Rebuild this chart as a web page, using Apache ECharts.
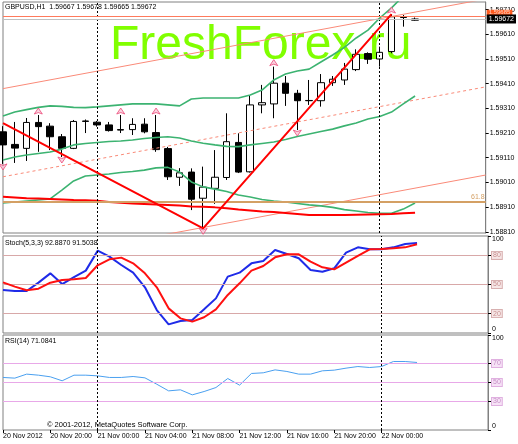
<!DOCTYPE html>
<html><head><meta charset="utf-8">
<script src="https://cdn.jsdelivr.net/npm/echarts@6/dist/echarts.min.js"></script>
<style>html,body{margin:0;padding:0;background:#fff}#c{width:518px;height:444px}</style>
</head><body><div id="c"></div>
<script>
// ---- data ----
const times = ['20 Nov 16:00','20 Nov 17:00','20 Nov 18:00','20 Nov 19:00','20 Nov 20:00','20 Nov 21:00','20 Nov 22:00','20 Nov 23:00',
 '21 Nov 00:00','21 Nov 01:00','21 Nov 02:00','21 Nov 03:00','21 Nov 04:00','21 Nov 05:00','21 Nov 06:00','21 Nov 07:00',
 '21 Nov 08:00','21 Nov 09:00','21 Nov 10:00','21 Nov 11:00','21 Nov 12:00','21 Nov 13:00','21 Nov 14:00','21 Nov 15:00',
 '21 Nov 16:00','21 Nov 17:00','21 Nov 18:00','21 Nov 19:00','21 Nov 20:00','21 Nov 21:00','21 Nov 22:00','21 Nov 23:00',
 '22 Nov 00:00','22 Nov 01:00','22 Nov 02:00','22 Nov 03:00'];
const futureSlots = ['22 Nov 04:00','22 Nov 05:00','22 Nov 06:00','22 Nov 07:00','22 Nov 08:00','22 Nov 09:00'];
const timeTickLabels = ['20 Nov 2012','20 Nov 20:00','21 Nov 00:00','21 Nov 04:00','21 Nov 08:00','21 Nov 12:00','21 Nov 16:00','21 Nov 20:00','22 Nov 00:00'];

const open  = [1.59215,1.59164,1.59148,1.59253,1.59238,1.59195,1.59148,1.59257,1.59254,1.59243,1.59224,1.59224,1.59246,1.59212,1.59147,1.59031,1.59052,1.58946,1.58986,1.59030,1.59172,1.59053,1.59324,1.59328,1.59412,1.59371,1.59342,1.59341,1.59414,1.59425,1.59467,1.59532,1.59510,1.59540,1.59679,1.59667];
const close = [1.59162,1.59149,1.59253,1.59236,1.59195,1.59148,1.59257,1.59259,1.59243,1.59220,1.59222,1.59245,1.59215,1.59143,1.59033,1.59049,1.58942,1.58991,1.59031,1.59175,1.59052,1.59324,1.59333,1.59412,1.59371,1.59341,1.59341,1.59414,1.59428,1.59469,1.59529,1.59509,1.59537,1.59681,1.59678,1.59672];
const low   = [1.59085,1.59089,1.59097,1.59134,1.59141,1.59113,1.59145,1.59210,1.59236,1.59216,1.59210,1.59202,1.59209,1.59134,1.59020,1.58996,1.58898,1.58824,1.58923,1.59020,1.59048,1.59050,1.59290,1.59270,1.59320,1.59222,1.59324,1.59317,1.59401,1.59405,1.59461,1.59490,1.59479,1.59533,1.59641,1.59665];
const high  = [1.59238,1.59255,1.59271,1.59283,1.59250,1.59206,1.59263,1.59265,1.59259,1.59255,1.59283,1.59270,1.59270,1.59283,1.59154,1.59068,1.59067,1.59074,1.59141,1.59290,1.59209,1.59364,1.59405,1.59479,1.59441,1.59385,1.59425,1.59449,1.59441,1.59494,1.59549,1.59537,1.59560,1.59692,1.59688,1.59678];

const bbUpper  = [1.59279,1.59295,1.59305,1.59314,1.59320,1.59318,1.59314,1.59313,1.59316,1.59320,1.59324,1.59328,1.59328,1.59328,1.59324,1.59320,1.59348,1.59352,1.59352,1.59352,1.59352,1.59364,1.59384,1.59425,1.59449,1.59461,1.59469,1.59498,1.59526,1.59557,1.59595,1.59627,1.59676,1.59717,1.59765,1.59798];
const bbMiddle = [1.59101,1.59113,1.59121,1.59127,1.59133,1.59145,1.59162,1.59168,1.59172,1.59176,1.59178,1.59182,1.59188,1.59192,1.59195,1.59190,1.59178,1.59169,1.59162,1.59156,1.59155,1.59162,1.59168,1.59174,1.59184,1.59196,1.59206,1.59216,1.59226,1.59239,1.59251,1.59267,1.59277,1.59295,1.59328,1.59360];
const bbLower  = [1.58927,1.58931,1.58935,1.58939,1.58943,1.58979,1.59016,1.59036,1.59040,1.59044,1.59050,1.59054,1.59060,1.59069,1.59071,1.59052,1.59012,1.58992,1.58983,1.58973,1.58959,1.58951,1.58941,1.58935,1.58931,1.58925,1.58919,1.58915,1.58909,1.58900,1.58894,1.58888,1.58885,1.58885,1.58902,1.58927];
const redLine  = [1.58952,1.58949,1.58946,1.58945,1.58943,1.58941,1.58939,1.58938,1.58936,1.58931,1.58928,1.58925,1.58923,1.58921,1.58919,1.58917,1.58913,1.58912,1.58909,1.58905,1.58900,1.58896,1.58892,1.58890,1.58886,1.58882,1.58878,1.58878,1.58878,1.58878,1.58879,1.58880,1.58881,1.58882,1.58885,1.58887];

const zigzag = [[0,1.59250],[17,1.58824],[33,1.59692]];
const channelUpper = [[0,1.59390],[41,1.59753]];
const channelMid   = [[0,1.59033],[41,1.59397]];
const channelLower = [[0,1.58677],[41,1.59040]];
const fibLevel = 1.58932;
const hLinePrice = 1.59685;
const lastPrice = 1.59672;
const upFractals = [3,10,13,23,33];
const downFractals = [0,5,17,25];
const daySeparators = [8,32];

const stochMain   = [44.4,43.3,43.3,51.9,61.5,50.5,57.7,64.3,84.9,78.7,70.1,62.2,47.1,23.7,8.9,12.4,13.4,24.4,35.7,58.1,62.2,71.8,74.2,85.6,81.5,77.0,65.0,63.2,66.7,82.8,88.3,86.3,86.3,88.3,91.8,92.89];
const stochSignal = [52.2,47.8,44.0,45.7,51.9,54.7,55.3,56.7,69.8,76.0,77.7,71.8,61.5,47.1,25.4,15.1,11.7,16.2,24.4,39.2,51.2,64.3,69.1,78.0,81.1,81.1,73.5,67.7,65.6,72.5,79.4,86.3,86.6,87.3,88.3,91.50];
const rsi         = [55.3,54.6,58.8,57.7,56.0,51.8,57.7,57.7,57.0,55.3,55.3,56.3,54.9,48.2,41.2,42.3,37.0,40.5,44.7,54.2,47.2,59.5,60.2,63.3,61.6,58.8,58.8,62.3,63.0,65.1,66.8,65.8,66.8,72.1,72.1,71.08];

const priceTicks = [1.5881,1.5891,1.5901,1.5911,1.5921,1.5931,1.5941,1.5951,1.5961,1.5971];
const stochTicks = [0,20,50,80,100];
const stochLevels = [20,50,80];
const rsiTicks = [0,30,50,70,100];
const rsiLevels = [30,50,70];

// ---- chart ----
const FONT = 'Liberation Sans, Arial, sans-serif';
const categories = times.concat(futureSlots);
const candles = open.map((o,i)=>[o, close[i], low[i], high[i]]);
const sepLines = daySeparators.map(i=>({xAxis: categories[i]}));
const sepStyle = {color:'#000', type:[2,2], width:1};

function xAx(gi, show){
  return {type:'category', gridIndex:gi, data:categories, boundaryGap:false, show:true,
    axisLine:{show:false},
    axisTick:{show:show, length:3, interval:(i)=>i%4===0 && i<=32, lineStyle:{color:'#000'}},
    axisLabel:{show:show, interval:0, align:'left', margin:3, fontSize:7, color:'#000', fontFamily:FONT,
      formatter:(v,i)=> (i%4===0 && timeTickLabels[i/4]) ? timeTickLabels[i/4] : ''},
    splitLine:{show:false}};
}
function levelAxis(gi, ticks, levels, rich){
  return {type:'value', gridIndex:gi, position:'right', min:0, max:100,
    axisLine:{show:true, lineStyle:{color:'#808080'}},
    axisTick:{show:true, length:3, customValues:ticks, lineStyle:{color:'#000'}},
    axisLabel:{customValues:ticks, fontSize:7, color:'#000', fontFamily:FONT, margin:4,
      verticalAlignMinLabel:'bottom', verticalAlignMaxLabel:'top',
      formatter:(v)=> levels.indexOf(v)>=0 ? '{lv|'+v+'}' : String(v), rich:{lv:rich}},
    splitLine:{show:false}};
}

const chart = echarts.init(document.getElementById('c'), null, {renderer:'canvas'});
chart.setOption({
  animation:false,
  backgroundColor:'#fff',
  grid:[
    {left:3, right:30, top:2, height:231, show:true, borderColor:'#808080', backgroundColor:'transparent'},
    {left:3, right:30, top:236, height:97, show:true, borderColor:'#808080', backgroundColor:'transparent'},
    {left:3, right:30, top:335, height:95, show:true, borderColor:'#808080', backgroundColor:'transparent'}
  ],
  xAxis:[xAx(0,false), xAx(1,false), xAx(2,true)],
  yAxis:[
    {type:'value', gridIndex:0, position:'right', min:1.588052, max:1.597408,
     axisLine:{show:true, lineStyle:{color:'#808080'}},
     axisTick:{show:true, length:3, customValues:priceTicks, lineStyle:{color:'#000'}},
     axisLabel:{customValues:priceTicks, formatter:(v)=>v.toFixed(5), fontSize:7, color:'#000', fontFamily:FONT, margin:4},
     splitLine:{show:false}},
    levelAxis(1, stochTicks, stochLevels, {backgroundColor:'#F6E6E6', borderColor:'#D8B0B0', borderWidth:1, color:'#C89090', padding:[0,1], fontSize:7}),
    levelAxis(2, rsiTicks, rsiLevels, {backgroundColor:'#F6E2F6', borderColor:'#E0B0E0', borderWidth:1, color:'#C890C8', padding:[0,1], fontSize:7})
  ],
  graphic:[
    {type:'text', left:110, top:22, z:1, style:{text:'FreshForex.ru', fontSize:48, fontFamily:FONT, fill:'#80FF00'}},
    {type:'text', left:5, top:4, z:10, style:{text:'GBPUSD,H1  1.59667 1.59678 1.59665 1.59672', fontSize:7, fontFamily:FONT, fill:'#000'}},
    {type:'text', left:5, top:240, z:10, style:{text:'Stoch(5,3,3) 92.8870 91.5038', fontSize:7, fontFamily:FONT, fill:'#000'}},
    {type:'text', left:5, top:338, z:10, style:{text:'RSI(14) 71.0841', fontSize:7, fontFamily:FONT, fill:'#000'}},
    {type:'text', left:47, top:421, z:10, style:{text:'\u00A9 2001-2012, MetaQuotes Software Corp.', fontSize:7.5, fontFamily:FONT, fill:'#000'}}
  ],
  series:[
    {type:'candlestick', xAxisIndex:0, yAxisIndex:0, data:candles, barWidth:7, z:2,
     itemStyle:{color:'#fff', color0:'#000', borderColor:'#000', borderColor0:'#000', borderWidth:1},
     markLine:{symbol:'none', silent:true, animation:false, precision:5, data:[
       {yAxis:fibLevel, lineStyle:{color:'#D4A064', type:'solid', width:2},
        label:{show:true, position:'insideEndTop', distance:1, formatter:'61.8', color:'#D4A064', fontSize:7, fontFamily:FONT}},
       ...sepLines.map(d=>Object.assign({lineStyle:sepStyle, label:{show:false}}, d)),
       {yAxis:hLinePrice, lineStyle:{color:'#FF7A5C', type:'solid', width:1},
        label:{show:true, position:'end', distance:1, offset:[0,-3], formatter:hLinePrice.toFixed(5), backgroundColor:'#FF5A1E', color:'#FFD0C0', fontSize:6, fontFamily:FONT, padding:[0,2]}},
       {yAxis:lastPrice, lineStyle:{color:'#C0C0C0', type:'solid', width:1},
        label:{show:true, position:'end', distance:1, formatter:lastPrice.toFixed(5), backgroundColor:'#000', color:'#fff', fontSize:7, fontFamily:FONT, padding:[1,2]}}
     ]}},
    {type:'line', name:'chU', xAxisIndex:0, yAxisIndex:0, data:channelUpper, symbol:'none', z:3, lineStyle:{color:'#FA8A78', width:1}},
    {type:'line', name:'chM', xAxisIndex:0, yAxisIndex:0, data:channelMid, symbol:'none', z:3, lineStyle:{color:'#FA8A78', width:1, type:[3,3]}},
    {type:'line', name:'chL', xAxisIndex:0, yAxisIndex:0, data:channelLower, symbol:'none', z:3, lineStyle:{color:'#FA8A78', width:1}},
    {type:'line', name:'bbU', xAxisIndex:0, yAxisIndex:0, data:bbUpper, symbol:'none', z:4, lineStyle:{color:'#3CB371', width:1.6}},
    {type:'line', name:'bbM', xAxisIndex:0, yAxisIndex:0, data:bbMiddle, symbol:'none', z:4, lineStyle:{color:'#3CB371', width:1.6}},
    {type:'line', name:'bbL', xAxisIndex:0, yAxisIndex:0, data:bbLower, symbol:'none', z:4, lineStyle:{color:'#3CB371', width:1.6}},
    {type:'line', name:'red', xAxisIndex:0, yAxisIndex:0, data:redLine, symbol:'none', z:4, lineStyle:{color:'#FF0000', width:2}},
    {type:'line', name:'zz', xAxisIndex:0, yAxisIndex:0, data:zigzag, symbol:'none', z:5, lineStyle:{color:'#FF0000', width:2}},
    {type:'scatter', xAxisIndex:0, yAxisIndex:0, z:6, symbol:'arrow', symbolSize:[6,6], symbolOffset:[0,-7],
     itemStyle:{color:'#F8C8D8', borderColor:'#EC4878', borderWidth:1},
     data:upFractals.map(i=>[i, high[i]])},
    {type:'scatter', xAxisIndex:0, yAxisIndex:0, z:6, symbol:'arrow', symbolSize:[6,6], symbolRotate:180, symbolOffset:[0,6],
     itemStyle:{color:'#F8C8D8', borderColor:'#EC4878', borderWidth:1},
     data:downFractals.map(i=>[i, low[i]])},
    {type:'line', xAxisIndex:1, yAxisIndex:1, data:stochMain, symbol:'none', z:4, lineStyle:{color:'#1F2BE8', width:2},
     markLine:{symbol:'none', silent:true, animation:false, label:{show:false}, data:[
       ...stochLevels.map(v=>({yAxis:v, lineStyle:{color:'#D8A8A8', type:'solid', width:1}})),
       ...sepLines.map(d=>Object.assign({lineStyle:sepStyle}, d))]}},
    {type:'line', xAxisIndex:1, yAxisIndex:1, data:stochSignal, symbol:'none', z:5, lineStyle:{color:'#FF1010', width:2}},
    {type:'line', xAxisIndex:2, yAxisIndex:2, data:rsi, symbol:'none', z:4, lineStyle:{color:'#4AA0F0', width:1},
     markLine:{symbol:'none', silent:true, animation:false, label:{show:false}, data:[
       ...rsiLevels.map(v=>({yAxis:v, lineStyle:{color:'#E8A8E8', type:'solid', width:1}})),
       ...sepLines.map(d=>Object.assign({lineStyle:sepStyle}, d))]}}
  ]
});
</script></body></html>
